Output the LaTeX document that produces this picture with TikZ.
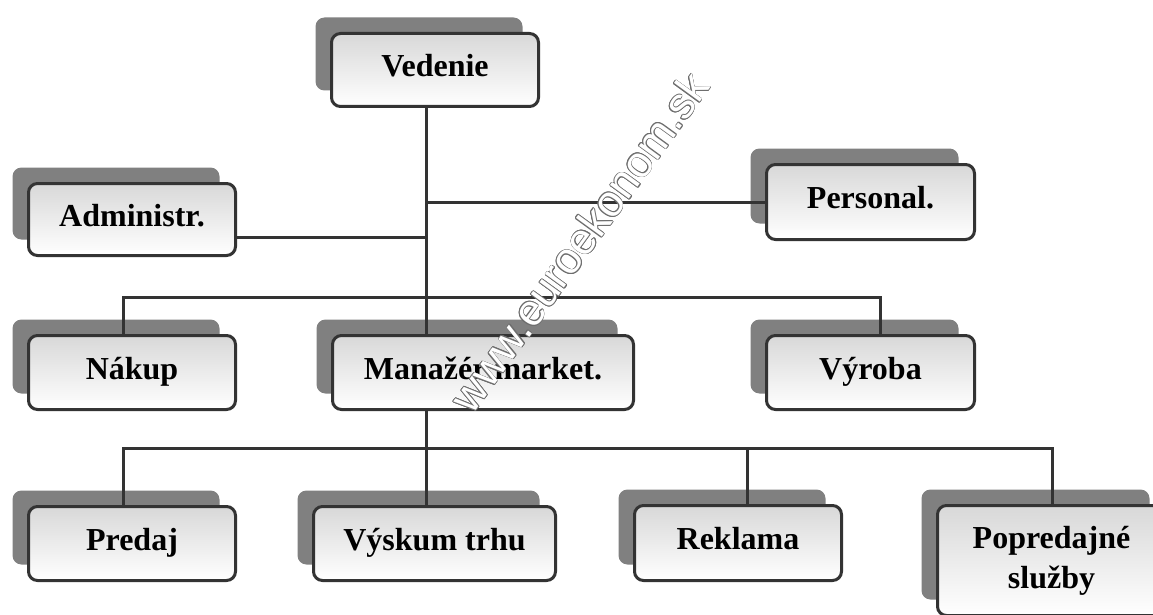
\documentclass[tikz,border=0pt]{standalone}
\usepackage{fontspec}
\setmainfont{Liberation Serif}
\newfontfamily\wmfont{Liberation Sans}
\usetikzlibrary{shadows,calc}
\definecolor{edgegray}{HTML}{333333}
\definecolor{shadegray}{HTML}{808080}
\definecolor{topfill}{HTML}{D8D8D8}
\definecolor{wmgray}{HTML}{6E6E6E}
\tikzset{
  orgbox/.style={draw=edgegray, line width=3pt, rounded corners=9pt,
    top color=topfill, bottom color=white, inner sep=0pt, align=center,
    font=\fontsize{32}{40}\selectfont\bfseries,
    general shadow={fill=shadegray, shadow xshift=-16pt, shadow yshift=16pt}},
  onerow/.style={text height=21pt, text depth=8pt},
  conn/.style={draw=edgegray, line width=3pt},
  wmark/.style={rotate=54, inner sep=0pt, font=\wmfont\fontsize{44}{44}\selectfont}
}
\begin{document}
\begin{tikzpicture}[x=1pt,y=-1pt]
\clip (0,0) rectangle (1153,615);
\fill[white] (0,0) rectangle (1153,615);
% boxes
\node[orgbox, onerow, minimum width=207, minimum height=73] (ved) at (435,70) {Vedenie};
\node[orgbox, onerow, minimum width=207, minimum height=72] (adm) at (132,219.5) {Administr.};
\node[orgbox, onerow, minimum width=208, minimum height=75] (per) at (870.5,202) {Personal.};
\node[orgbox, onerow, minimum width=207, minimum height=74] (nak) at (132,372.5) {Nákup};
\node[orgbox, onerow, minimum width=301, minimum height=74] (man) at (483,372.5) {Manažér market.};
\node[orgbox, onerow, minimum width=208, minimum height=74] (vyr) at (870.5,372.5) {Výroba};
\node[orgbox, onerow, minimum width=207, minimum height=74] (pre) at (132,543.5) {Predaj};
\node[orgbox, onerow, minimum width=242, minimum height=74] (vys) at (434.5,543.5) {Výskum trhu};
\node[orgbox, onerow, minimum width=207, minimum height=75] (rek) at (738,543) {Reklama};
\node[orgbox, minimum width=228, minimum height=110] (pop) at (1051.5,560.5) {Popredajné\\služby};
% guide coordinates
\coordinate (t) at (426,0);
\coordinate (bA) at (0,297);
\coordinate (bB) at (0,448);
\coordinate (aY) at (0,237);
\coordinate (dL) at (123,0);
\coordinate (dV) at (880,0);
\coordinate (dR) at (747,0);
\coordinate (dP) at (1052,0);
% connectors
\draw[conn] (ved.south -| t) -- (man.north -| t);
\draw[conn] (t |- per.west) -- (per.west);
\draw[conn] (adm.east |- aY) -- (t |- aY);
\draw[conn] (nak.north -| dL) -- (dL |- bA) -- (dV |- bA) -- (vyr.north -| dV);
\draw[conn] (man.south -| t) -- (vys.north -| t);
\draw[conn] (pre.north -| dL) -- (dL |- bB) -- (dP |- bB) -- (pop.north -| dP);
\draw[conn] (dR |- bB) -- (rek.north -| dR);
% watermark (outlined text)
\coordinate (wmc) at (579,242);
\foreach \a [count=\i] in {0,30,...,330}
  \node[wmark, text=wmgray] (wmo\i) at ($(wmc)+(\a:0.7)$) {www.euroekonom.sk};
\node[wmark, text=white] (wm) at (wmc) {www.euroekonom.sk};
\end{tikzpicture}
\end{document}
